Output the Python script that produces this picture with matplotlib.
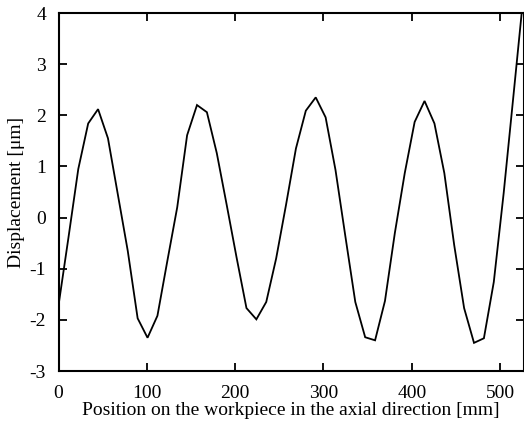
import numpy as np
import matplotlib
matplotlib.use("Agg")
import matplotlib.pyplot as plt

plt.rcParams['font.family'] = ['Liberation Serif', 'DejaVu Serif']
plt.rcParams['axes.unicode_minus'] = False

# Measurement positions along the workpiece [mm] (sampling pitch 11.2 mm)
step_mm = 11.2
n_points = 48
position = [i * step_mm for i in range(n_points)]

# Measured displacement [um]
displacement = [
    -1.72, -0.40, 0.95, 1.84, 2.12, 1.55, 0.45, -0.65, -1.97, -2.35,
    -1.92, -0.85, 0.20, 1.61, 2.20, 2.06, 1.26, 0.25, -0.78, -1.77,
    -1.99, -1.65, -0.80, 0.25, 1.35, 2.09, 2.35, 1.96, 0.93, -0.37,
    -1.65, -2.34, -2.40, -1.63, -0.30, 0.87, 1.87, 2.28, 1.84, 0.87,
    -0.54, -1.77, -2.45, -2.36, -1.26, 0.48, 2.41, 4.35,
]

x_ticks = [0, 100, 200, 300, 400, 500]
y_ticks = [-3, -2, -1, 0, 1, 2, 3, 4]

fig = plt.figure(figsize=(5.24, 4.22), dpi=100)
ax = fig.add_axes([58.5 / 524, 1 - 371 / 422, (524 - 58.5) / 524, (371 - 13) / 422])

ax.plot(position, displacement, color='black', lw=1.3, solid_joinstyle='miter')

ax.set_xlim(0, 527)
ax.set_ylim(-3, 4)
ax.set_xticks(x_ticks)
ax.set_yticks(y_ticks)

ax.tick_params(direction='in', length=6, width=1.3, top=True, right=True,
               labelsize=14)
ax.tick_params(axis='x', pad=10)
ax.tick_params(axis='y', pad=9)
for sp in ax.spines.values():
    sp.set_linewidth(1.5)

ax.set_xlabel('Position on the workpiece in the axial direction [mm]',
              fontsize=14, labelpad=0)
ax.set_ylabel('Displacement [\u03bcm]', fontsize=14, labelpad=3)

fig.savefig('out.png', dpi=100)
